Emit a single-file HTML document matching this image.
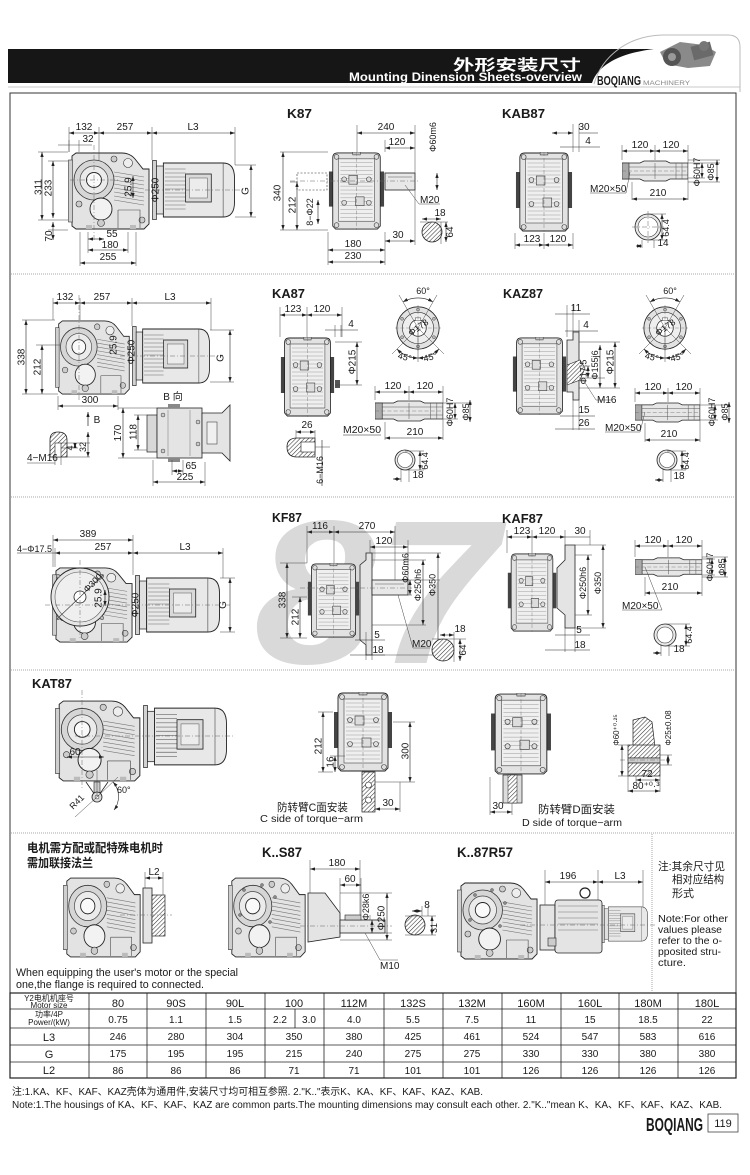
<!DOCTYPE html>
<html><head><meta charset="utf-8"><style>
html,body{margin:0;padding:0;background:#fff}
svg{display:block;font-size:10px}
text{font-family:"Liberation Sans","Noto Sans CJK SC",sans-serif;fill:#1a1a1a}
.t{text-anchor:middle}
.b{font-weight:bold}
.d{stroke:#222;stroke-width:0.6;fill:none;marker-start:url(#ar);marker-end:url(#ar)}
.e{stroke:#444;stroke-width:0.5;fill:none}
.c{stroke:#666;stroke-width:0.5;fill:none;stroke-dasharray:5 2 1 2}
.o{stroke:#222;stroke-width:0.8;fill:#e4e4e4}
.g{fill:#e8e8e8;stroke:#222;stroke-width:0.8}
</style></head><body>
<svg width="750" height="1175" viewBox="0 0 750 1175" xmlns="http://www.w3.org/2000/svg">
<defs>
<marker id="ar" viewBox="0 0 6 4" refX="6" refY="2" markerWidth="5" markerHeight="3.4" orient="auto-start-reverse" markerUnits="userSpaceOnUse"><path d="M0,0L6,2L0,4Z" fill="#222"/></marker>
<pattern id="hp" width="3" height="3" patternUnits="userSpaceOnUse" patternTransform="rotate(45)"><rect width="3" height="3" fill="#fff"/><line x1="0" y1="0" x2="0" y2="3" stroke="#333" stroke-width="1.1"/></pattern>
<symbol id="ks" viewBox="0 0 84 78" preserveAspectRatio="none">
<path d="M4,4 L8,1 L54,1 Q62,1 67,7 L75,17 L81,17 L81,72 L76,77 L8,77 L4,74 Z" fill="#e3e3e3" stroke="#222" stroke-width="0.9"/>
<rect x="0.5" y="8" width="4" height="62" fill="#cfcfcf" stroke="#333" stroke-width="0.6"/>
<path d="M46,20 L76,25 M46,24 L76,29 M46,28 L76,33 M46,32 L76,37 M46,36 L76,41 M46,40 L76,45 M46,44 L76,49 M46,48 L76,53" stroke="#777" stroke-width="0.6"/>
<circle cx="26" cy="28" r="20" fill="#d6d6d6" stroke="#333" stroke-width="0.8"/>
<circle cx="26" cy="28" r="14" fill="#ebebeb" stroke="#444" stroke-width="0.7"/>
<circle cx="26" cy="28" r="7.5" fill="#fafafa" stroke="#222" stroke-width="0.9"/>
<circle cx="33" cy="57" r="11" fill="#f2f2f2" stroke="#222" stroke-width="0.9"/>
<circle cx="46" cy="7" r="3" fill="#ccc" stroke="#333" stroke-width="0.6"/>
<circle cx="60" cy="11" r="4.5" fill="#eee" stroke="#333" stroke-width="0.6"/>
<circle cx="11" cy="52" r="3" fill="#ccc" stroke="#333" stroke-width="0.6"/>
<circle cx="33" cy="71" r="3.5" fill="#ccc" stroke="#333" stroke-width="0.6"/>
<circle cx="74" cy="68" r="3" fill="#ccc" stroke="#333" stroke-width="0.6"/>
<path d="M50,58 L72,58 L72,76 M50,58 L50,76" stroke="#444" stroke-width="0.6" fill="none"/>
<rect x="18" y="73" width="6" height="4" fill="#bbb"/><rect x="62" y="73" width="6" height="4" fill="#bbb"/>
</symbol>
<symbol id="mot" viewBox="0 0 84 60" preserveAspectRatio="none">
<rect x="0.5" y="0.5" width="4" height="59" fill="#d2d2d2" stroke="#222" stroke-width="0.7"/>
<rect x="4.5" y="6" width="7" height="48" fill="#e0e0e0" stroke="#222" stroke-width="0.7"/>
<path d="M11.5,3 L72,3 Q83.5,3 83.5,18 L83.5,42 Q83.5,57 72,57 L11.5,57 Z" fill="#e8e8e8" stroke="#222" stroke-width="0.9"/>
<path d="M13,9H34M13,13H34M13,17H34M13,21H34M13,25H34M13,29H34M13,33H34M13,37H34M13,41H34M13,45H34M13,49H34" stroke="#666" stroke-width="0.6"/>
<rect x="34" y="14" width="26" height="28" fill="#dadada" stroke="#222" stroke-width="0.8"/>
<rect x="38" y="18" width="18" height="20" fill="#ececec" stroke="#555" stroke-width="0.5"/>
<line x1="72" y1="3" x2="72" y2="57" stroke="#444" stroke-width="0.6"/>
</symbol>
<symbol id="kf" viewBox="0 0 60 80" preserveAspectRatio="none">
<rect x="1" y="20" width="5" height="36" fill="#444"/>
<rect x="54" y="20" width="5" height="36" fill="#444"/>
<path d="M5,6 Q5,1 10,1 L50,1 Q55,1 55,6 L55,76 L52,79 L8,79 L5,76 Z" fill="#e2e2e2" stroke="#222" stroke-width="0.9"/>
<rect x="11" y="7" width="38" height="64" fill="#efefef" stroke="#444" stroke-width="0.6"/>
<path d="M13,11H47M13,15H47M13,19H47M13,23H47M13,27H47M13,31H47M13,35H47M13,39H47M13,43H47M13,47H47M13,51H47M13,55H47M13,59H47M13,63H47M13,67H47" stroke="#999" stroke-width="0.5"/>
<g fill="#ddd" stroke="#333" stroke-width="0.6"><circle cx="9" cy="5" r="2.5"/><circle cx="51" cy="5" r="2.5"/><circle cx="9" cy="75" r="2.5"/><circle cx="51" cy="75" r="2.5"/><circle cx="17" cy="28" r="2.5"/><circle cx="43" cy="28" r="2.5"/><circle cx="17" cy="52" r="2.5"/><circle cx="43" cy="52" r="2.5"/>
<rect x="22" y="24" width="9" height="9"/><rect x="29" y="46" width="9" height="9"/></g>
<rect x="26" y="0" width="8" height="3" fill="#bbb" stroke="#333" stroke-width="0.5"/>
<line x1="30" y1="0" x2="30" y2="80" stroke="#666" stroke-width="0.4" stroke-dasharray="4 2"/>
</symbol>
<symbol id="hs" viewBox="0 0 66 22" preserveAspectRatio="none">
<path d="M0,3 L18,3 L22,1 L44,1 L48,3 L66,3 L66,19 L48,19 L44,21 L22,21 L18,19 L0,19 Z" fill="#e6e6e6" stroke="#222" stroke-width="0.8"/>
<rect x="0" y="3" width="7" height="16" fill="#aaa" stroke="#222" stroke-width="0.6"/>
<line x1="7" y1="7" x2="66" y2="7" stroke="#555" stroke-width="0.5"/>
<line x1="7" y1="15" x2="66" y2="15" stroke="#555" stroke-width="0.5"/>
<line x1="0" y1="11" x2="66" y2="11" stroke="#666" stroke-width="0.4" stroke-dasharray="4 2"/>
<path d="M33,3V19M54,3V19M60,3V19" stroke="#555" stroke-width="0.5"/>
</symbol>
<symbol id="fc" viewBox="0 0 50 50">
<circle cx="25" cy="25" r="23" fill="#e2e2e2" stroke="#222" stroke-width="0.9"/>
<circle cx="25" cy="25" r="17" fill="#eee" stroke="#333" stroke-width="0.7"/>
<circle cx="25" cy="25" r="9" fill="#fff" stroke="#222" stroke-width="0.8"/>
<rect x="22" y="14" width="6" height="3" fill="#fff" stroke="#333" stroke-width="0.5"/>
<g fill="#bbb" stroke="#333" stroke-width="0.5"><circle cx="42.3" cy="15" r="1.6"/><circle cx="25" cy="5" r="1.6"/><circle cx="7.7" cy="15" r="1.6"/><circle cx="7.7" cy="35" r="1.6"/><circle cx="25" cy="45" r="1.6"/><circle cx="42.3" cy="35" r="1.6"/></g>
<path d="M0,25H50M25,0V50" stroke="#666" stroke-width="0.4" stroke-dasharray="4 2"/>
</symbol>
</defs>

<rect x="0" y="0" width="750" height="1175" fill="#fff"/>

<!-- HEADER -->
<path d="M8,49 L654,49 C630,52 600,60 592,83 L8,83 Z" fill="#161616"/>
<line x1="8" y1="87" x2="740" y2="87" stroke="#c8c8c8" stroke-width="1"/>
<path d="M594,84 C602,56 628,36 662,35 L728,35 Q740,35 740,47 L740,92" stroke="#bbb" stroke-width="1" fill="none"/>
<g>
<path d="M660,52 L680,42 L704,45 L716,52 L710,66 L688,68 L666,64 Z" fill="#8a8a8a"/>
<circle cx="672" cy="57" r="9" fill="#555"/><circle cx="672" cy="57" r="4" fill="#999"/>
<rect x="692" y="44" width="20" height="14" fill="#6a6a6a" transform="rotate(-15 702 51)"/>
<circle cx="704" cy="46" r="5" fill="#777"/>
</g>
<text x="581" y="70" text-anchor="end" class="b" font-size="15" style="fill:#fff" textLength="128" lengthAdjust="spacingAndGlyphs">外形安装尺寸</text>
<text x="349" y="81" class="b" font-size="12" style="fill:#fff" textLength="233" lengthAdjust="spacingAndGlyphs">Mounting Dinension Sheets-overview</text>
<text x="597" y="85" class="b" font-size="13" textLength="44" lengthAdjust="spacingAndGlyphs">BOQIANG</text>
<text x="643" y="85" font-size="6" style="fill:#888" textLength="47" lengthAdjust="spacingAndGlyphs">MACHINERY</text>

<!-- FRAME -->
<rect x="10" y="93" width="726" height="985" fill="none" stroke="#333" stroke-width="1"/>
<g stroke="#aaa" stroke-width="1" stroke-dasharray="1 1">
<line x1="11" y1="274" x2="735" y2="274"/><line x1="11" y1="497" x2="735" y2="497"/>
<line x1="11" y1="670" x2="735" y2="670"/><line x1="11" y1="833" x2="735" y2="833"/>
<line x1="652" y1="834" x2="652" y2="992"/></g>

<!-- WATERMARK 87 -->
<text x="254" y="663" class="b" font-size="205" font-style="italic" style="fill:#d9d9d9" textLength="244" lengthAdjust="spacingAndGlyphs">87</text>

<!-- ===== SECTION 1 ===== -->
<text x="287" y="118" class="b" font-size="13" textLength="25" lengthAdjust="spacingAndGlyphs">K87</text>
<text x="502" y="118" class="b" font-size="13" textLength="43" lengthAdjust="spacingAndGlyphs">KAB87</text>

<use href="#ks" x="68" y="152" width="84" height="78"/>
<use href="#mot" x="152" y="160" width="83" height="60"/>
<path class="c" d="M145,190H245M94,145V240M70,180H120"/>
<path class="e" d="M69,127V152M99,127V160M152,127V160M235,127V165M38,152H68M48,161H68M38,220H68M48,230H68M80,232V266M88,232V253M128,232V253M136,232V266M235,165H256M235,217H256"/>
<line class="d" x1="69" y1="133" x2="99" y2="133"/><line class="d" x1="99" y1="133" x2="152" y2="133"/><line class="d" x1="152" y1="133" x2="235" y2="133"/>
<text class="t" x="84" y="130">132</text><text class="t" x="125" y="130">257</text><text class="t" x="193" y="130">L3</text>
<path class="e" d="M58,145H92M69,140V152M79,140V152"/><text class="t" x="88" y="142">32</text>
<line class="d" x1="42" y1="152" x2="42" y2="220"/><line class="d" x1="53" y1="161" x2="53" y2="218"/><line class="d" x1="53" y1="222" x2="53" y2="240"/>
<text class="t" x="41.5" y="187" transform="rotate(-90 41.5 187)">311</text>
<text class="t" x="51.5" y="188" transform="rotate(-90 51.5 188)">233</text>
<text class="t" x="52" y="236" transform="rotate(-90 52 236)">70</text>
<line class="d" x1="88" y1="239" x2="104" y2="239"/><text class="t" x="112" y="237">55</text>
<line class="d" x1="88" y1="250" x2="128" y2="250"/><text class="t" x="110" y="248">180</text>
<line class="d" x1="80" y1="263" x2="136" y2="263"/><text class="t" x="108" y="260">255</text>
<line class="d" x1="133" y1="176" x2="133" y2="198"/>
<text class="t" x="131.5" y="187" transform="rotate(-90 131.5 187)">25.9</text>
<text class="t" x="158.5" y="190" transform="rotate(-90 158.5 190)">Φ250</text>
<line class="d" x1="251" y1="165" x2="251" y2="217"/>
<text class="t" x="248.5" y="191" transform="rotate(-90 248.5 191)">G</text>

<!-- K87 front -->
<rect x="297" y="173" width="30" height="17" fill="none" stroke="#333" stroke-width="0.6" stroke-dasharray="2 1.5"/>
<use href="#kf" x="328" y="152" width="57" height="78"/>
<rect x="385" y="173" width="30" height="17" class="g"/>
<line x1="388" y1="177" x2="412" y2="177" stroke="#555" stroke-width="0.5"/>
<path class="c" d="M290,181H420"/>
<path class="e" d="M357,125V152M415,125V195M280,152H328M290,182H297M280,230H328M328,232V265M385,232V265M415,195V245M385,140V152"/>
<line class="d" x1="357" y1="133" x2="415" y2="133"/><text class="t" x="386" y="130">240</text>
<line class="d" x1="385" y1="148" x2="415" y2="148"/><text class="t" x="397" y="145">120</text>
<line class="d" x1="437" y1="173" x2="437" y2="190"/>
<text class="t" x="436" y="137" font-size="9" transform="rotate(-90 436 137)">Φ60m6</text>
<path class="e" d="M405,185L419,204H440"/><text x="420" y="203">M20</text>
<circle cx="432" cy="232" r="10" fill="url(#hp)" stroke="#222" stroke-width="0.8"/>
<path class="e" d="M420,222H448M441,222V244"/>
<line class="d" x1="422" y1="219" x2="441" y2="219"/><text class="t" x="440" y="216">18</text>
<line class="d" x1="446" y1="222" x2="446" y2="242"/><text class="t" x="453" y="232" transform="rotate(-90 453 232)">64</text>
<line class="d" x1="385" y1="241" x2="415" y2="241"/><text class="t" x="398" y="238">30</text>
<line class="d" x1="328" y1="250" x2="385" y2="250"/><text class="t" x="353" y="247">180</text>
<line class="d" x1="328" y1="262" x2="385" y2="262"/><text class="t" x="353" y="259">230</text>
<line class="d" x1="283" y1="152" x2="283" y2="230"/><text class="t" x="280.5" y="193" transform="rotate(-90 280.5 193)">340</text>
<line class="d" x1="297" y1="182" x2="297" y2="230"/><text class="t" x="295.5" y="205" transform="rotate(-90 295.5 205)">212</text>
<line class="d" x1="318" y1="200" x2="318" y2="224"/><text class="t" x="313" y="212" font-size="9" transform="rotate(-90 313 212)">8−Φ22</text>

<!-- KAB87 -->
<use href="#kf" x="515" y="152" width="58" height="80"/>
<path class="e" d="M573,124V152M579,124V152M515,233V249M573,233V249M544,233V249"/>
<line class="d" x1="552" y1="133" x2="573" y2="133"/><line x1="579" y1="133" x2="598" y2="133" stroke="#222" stroke-width="0.6"/>
<text class="t" x="584" y="130">30</text>
<line x1="560" y1="147" x2="600" y2="147" stroke="#222" stroke-width="0.6"/><text class="t" x="588" y="144">4</text>
<line class="d" x1="515" y1="245" x2="544" y2="245"/><line class="d" x1="544" y1="245" x2="573" y2="245"/>
<text class="t" x="532" y="242">123</text><text class="t" x="558" y="242">120</text>
<use href="#hs" x="622" y="160" width="66" height="22"/>
<path class="e" d="M622,145V160M655,145V160M688,145V200M632,182V200M688,163H720M688,178H705M688,160H720M688,182H720"/>
<line class="d" x1="622" y1="151" x2="655" y2="151"/><line class="d" x1="655" y1="151" x2="688" y2="151"/>
<text class="t" x="640" y="148">120</text><text class="t" x="671" y="148">120</text>
<path class="e" d="M630,172L626,193H590"/><text x="590" y="192">M20×50</text>
<line class="d" x1="632" y1="199" x2="688" y2="199"/><text class="t" x="658" y="196">210</text>
<line class="d" x1="702" y1="163" x2="702" y2="178"/><text class="t" x="700" y="172" font-size="9" transform="rotate(-90 700 172)">Φ60H7</text>
<line class="d" x1="717" y1="160" x2="717" y2="182"/><text class="t" x="714" y="172" font-size="9" transform="rotate(-90 714 172)">Φ85</text>
<circle cx="648" cy="227" r="13" fill="#e8e8e8" stroke="#222" stroke-width="0.8"/>
<circle cx="648" cy="227" r="10" fill="#fff" stroke="#333" stroke-width="0.6"/>
<path class="c" d="M632,227H664M648,211V243"/>
<path class="e" d="M648,214H666M648,240H666M642,240V248M654,240V248"/>
<line class="d" x1="662" y1="214" x2="662" y2="240"/><text class="t" x="669" y="228" font-size="9" transform="rotate(-90 669 228)">64.4</text>
<line class="d" x1="636" y1="246" x2="642" y2="246"/><text class="t" x="663" y="246">14</text>

<!-- ===== SECTION 2 ===== -->
<text x="272" y="298" class="b" font-size="13" textLength="33" lengthAdjust="spacingAndGlyphs">KA87</text>
<text x="503" y="298" class="b" font-size="13" textLength="40" lengthAdjust="spacingAndGlyphs">KAZ87</text>

<use href="#ks" x="55" y="320" width="77" height="75"/>
<use href="#mot" x="132" y="326" width="78" height="60"/>
<path class="c" d="M120,356H222M79,295V400"/>
<path class="e" d="M53,298V320M80,298V320M132,298V326M211,298V330M22,320H55M36,345H60M22,394H58M58,396V410M118,396V410M210,330H234M210,382H234"/>
<line class="d" x1="53" y1="303" x2="80" y2="303"/><line class="d" x1="80" y1="303" x2="132" y2="303"/><line class="d" x1="132" y1="303" x2="211" y2="303"/>
<text class="t" x="65" y="300">132</text><text class="t" x="102" y="300">257</text><text class="t" x="170" y="300">L3</text>
<line class="d" x1="26" y1="320" x2="26" y2="394"/><text class="t" x="24.5" y="357" transform="rotate(-90 24.5 357)">338</text>
<line class="d" x1="42" y1="345" x2="42" y2="394"/><text class="t" x="40.5" y="367" transform="rotate(-90 40.5 367)">212</text>
<text class="t" x="116.5" y="345" transform="rotate(-90 116.5 345)">25.9</text>
<text class="t" x="134.5" y="352" transform="rotate(-90 134.5 352)">Φ250</text>
<line class="d" x1="230" y1="330" x2="230" y2="382"/><text class="t" x="223.5" y="358" transform="rotate(-90 223.5 358)">G</text>
<line class="d" x1="58" y1="406" x2="118" y2="406"/><text class="t" x="90" y="403">300</text>
<text class="t" x="173" y="400">B 向</text>
<line x1="88" y1="426" x2="88" y2="412" stroke="#222" stroke-width="0.7" marker-end="url(#ar)"/><text class="t" x="97" y="423">B</text>
<!-- 4-M16 detail -->
<path d="M50,457 L50,440 Q50,432 58,432 Q67,432 67,440 L67,457 Z" fill="url(#hp)" stroke="#222" stroke-width="0.8"/>
<rect x="55" y="443" width="6" height="14" fill="#fff" stroke="#222" stroke-width="0.6"/>
<path class="e" d="M61,443H90M61,448H78M61,457H90M55,457V465M61,457V465M27,463H55"/>
<line class="d" x1="75" y1="443" x2="75" y2="448"/><text class="t" x="73" y="448" font-size="9" transform="rotate(-90 73 448)">4</text>
<line class="d" x1="88" y1="432" x2="88" y2="457"/><text class="t" x="86" y="447" font-size="9" transform="rotate(-90 86 447)">32</text>
<text x="27" y="461">4−M16</text>
<!-- B view -->
<rect x="147" y="415" width="10" height="37" fill="#d8d8d8" stroke="#222" stroke-width="0.7"/>
<rect x="157" y="408" width="45" height="50" class="o"/>
<rect x="168" y="404" width="12" height="4" fill="#888"/><rect x="168" y="458" width="12" height="4" fill="#888"/>
<path d="M202,413 L222,413 L230,405 L230,461 L222,453 L202,453 Z" class="o"/>
<rect x="207" y="422" width="10" height="22" fill="#f0f0f0" stroke="#444" stroke-width="0.6"/>
<g fill="#ccc" stroke="#333" stroke-width="0.5"><circle cx="163" cy="415" r="2"/><circle cx="163" cy="451" r="2"/><circle cx="198" cy="422" r="2"/><circle cx="198" cy="444" r="2"/></g>
<path d="M168,410V456M190,410V456" stroke="#777" stroke-width="0.5"/>
<path class="e" d="M118,408H157M134,415H147M134,450H147M118,458H157M153,460V486M172,460V475M183,460V475M205,462V486"/>
<line class="d" x1="123" y1="408" x2="123" y2="458"/><text class="t" x="121" y="433" transform="rotate(-90 121 433)">170</text>
<line class="d" x1="138" y1="415" x2="138" y2="450"/><text class="t" x="136.5" y="432" transform="rotate(-90 136.5 432)">118</text>
<line class="d" x1="172" y1="471" x2="183" y2="471"/><text class="t" x="191" y="469">65</text>
<line class="d" x1="153" y1="482" x2="205" y2="482"/><text class="t" x="185" y="480">225</text>
<!-- KA87 front -->
<use href="#kf" x="280" y="337" width="55" height="80"/>
<rect x="335" y="380" width="5" height="8" fill="#555"/>
<path class="e" d="M280,307V337M307,307V337M342,307V337M335,325V337M341,325V337M335,342H362M335,385H362"/>
<line class="d" x1="280" y1="315" x2="307" y2="315"/><line class="d" x1="307" y1="315" x2="342" y2="315"/>
<text class="t" x="293" y="312">123</text><text class="t" x="322" y="312">120</text>
<line x1="325" y1="330" x2="358" y2="330" stroke="#222" stroke-width="0.6"/><text class="t" x="351" y="327">4</text>
<line class="d" x1="357" y1="342" x2="357" y2="385"/><text class="t" x="355.5" y="362" transform="rotate(-90 355.5 362)">Φ215</text>
<path d="M315,438 L297,438 Q287,438 287,447 Q287,457 297,457 L315,457 Z" fill="url(#hp)" stroke="#222" stroke-width="0.8"/>
<rect x="301" y="442" width="14" height="10" fill="#fff" stroke="#222" stroke-width="0.6"/>
<path class="e" d="M296,430V438M315,430V438M315,447H330"/>
<line class="d" x1="296" y1="432" x2="315" y2="432"/><text class="t" x="307" y="428">26</text>
<line x1="322" y1="440" x2="322" y2="486" stroke="#222" stroke-width="0.6"/>
<text class="t" x="323" y="470" font-size="9" transform="rotate(-90 323 470)">6−M16</text>
<text x="343" y="433" textLength="38" lengthAdjust="spacingAndGlyphs">M20×50</text>
<line x1="343" y1="435" x2="381" y2="435" stroke="#222" stroke-width="0.5"/>
<!-- flange circles -->
<use href="#fc" x="395" y="305" width="46" height="46"/>
<use href="#fc" x="642" y="305" width="46" height="46"/>
<g>
<path class="e" d="M418,328L399,295M418,328L437,295M418,328L392,354M418,328L444,354M418,328V362"/>
<path class="d" d="M403,302A30,30 0 0 1 433,302"/>
<path class="d" d="M397,349A30,30 0 0 0 418,358"/><path class="d" d="M418,358A30,30 0 0 0 439,349"/>
<text class="t" x="423" y="294" font-size="9">60°</text>
<text class="t" x="404" y="360" font-size="9" transform="rotate(15 404 360)">45°</text><text class="t" x="431" y="360" font-size="9" transform="rotate(-15 431 360)">45°</text>
<text class="t" x="420" y="330" font-size="9" transform="rotate(-35 420 330)">Φ178</text>
</g>
<g>
<path class="e" d="M665,328L646,295M665,328L684,295M665,328L639,354M665,328L691,354M665,328V362"/>
<path class="d" d="M650,302A30,30 0 0 1 680,302"/>
<path class="d" d="M644,349A30,30 0 0 0 665,358"/><path class="d" d="M665,358A30,30 0 0 0 686,349"/>
<text class="t" x="670" y="294" font-size="9">60°</text>
<text class="t" x="651" y="360" font-size="9" transform="rotate(15 651 360)">45°</text><text class="t" x="678" y="360" font-size="9" transform="rotate(-15 678 360)">45°</text>
<text class="t" x="667" y="330" font-size="9" transform="rotate(-35 667 330)">Φ178</text>
</g>
<!-- hollow shafts sec2 -->
<use href="#hs" x="375" y="400" width="68" height="22"/>
<path class="e" d="M375,386V400M409,386V400M443,386V440M385,422V440M443,403H472M443,419H458"/>
<line class="d" x1="375" y1="392" x2="409" y2="392"/><line class="d" x1="409" y1="392" x2="443" y2="392"/>
<text class="t" x="393" y="389">120</text><text class="t" x="425" y="389">120</text>
<line class="d" x1="385" y1="438" x2="443" y2="438"/><text class="t" x="415" y="435">210</text>
<line class="d" x1="455" y1="403" x2="455" y2="419"/><text class="t" x="453" y="412" font-size="9" transform="rotate(-90 453 412)">Φ60H7</text>
<line class="d" x1="470" y1="400" x2="470" y2="422"/><text class="t" x="469" y="412" font-size="9" transform="rotate(-90 469 412)">Φ85</text>
<circle cx="405" cy="460" r="10" fill="#e8e8e8" stroke="#222" stroke-width="0.8"/><circle cx="405" cy="460" r="7.5" fill="#fff" stroke="#333" stroke-width="0.6"/>
<path class="e" d="M405,451H424M405,470H424M401,468V482M409,468V482"/>
<line class="d" x1="420" y1="451" x2="420" y2="470"/><text class="t" x="428" y="461" font-size="9" transform="rotate(-90 428 461)">64.4</text>
<line class="d" x1="393" y1="479" x2="401" y2="479"/><text class="t" x="418" y="478">18</text>

<use href="#hs" x="635" y="402" width="65" height="21"/>
<path class="e" d="M635,388V402M668,388V402M700,388V442M645,423V442M700,405H730M700,420H718"/>
<line class="d" x1="635" y1="393" x2="668" y2="393"/><line class="d" x1="668" y1="393" x2="700" y2="393"/>
<text class="t" x="653" y="390">120</text><text class="t" x="684" y="390">120</text>
<path class="e" d="M645,412L640,432H605"/><text x="605" y="431">M20×50</text>
<line class="d" x1="645" y1="440" x2="700" y2="440"/><text class="t" x="669" y="437">210</text>
<line class="d" x1="715" y1="405" x2="715" y2="420"/><text class="t" x="715" y="412" font-size="9" transform="rotate(-90 715 412)">Φ60H7</text>
<line class="d" x1="729" y1="402" x2="729" y2="423"/><text class="t" x="728" y="412" font-size="9" transform="rotate(-90 728 412)">Φ85</text>
<circle cx="667" cy="460" r="10" fill="#e8e8e8" stroke="#222" stroke-width="0.8"/><circle cx="667" cy="460" r="7.5" fill="#fff" stroke="#333" stroke-width="0.6"/>
<path class="e" d="M667,451H686M667,470H686M663,468V482M671,468V482"/>
<line class="d" x1="682" y1="451" x2="682" y2="470"/><text class="t" x="689" y="461" font-size="9" transform="rotate(-90 689 461)">64.4</text>
<line class="d" x1="655" y1="480" x2="663" y2="480"/><text class="t" x="679" y="479">18</text>
<!-- KAZ87 -->
<use href="#kf" x="512" y="337" width="55" height="78"/>
<path d="M567,340 L573,340 L573,332 L579,332 L579,400 L573,400 L573,392 L567,392 Z" class="o"/>
<path d="M567,365 L580,360 L585,368 L580,380 L567,385 Z" fill="url(#hp)" stroke="#222" stroke-width="0.6"/>
<path class="e" d="M567,305V337M573,305V332M579,320V332M579,342H620M579,366H590M579,378H605M579,388H620M573,400V430M579,400V430"/>
<line x1="555" y1="314" x2="590" y2="314" stroke="#222" stroke-width="0.6"/><text class="t" x="576" y="311">11</text>
<line x1="565" y1="331" x2="598" y2="331" stroke="#222" stroke-width="0.6"/><text class="t" x="586" y="328">4</text>
<line class="d" x1="588" y1="366" x2="588" y2="378"/><text class="t" x="586.5" y="372" font-size="9" transform="rotate(-90 586.5 372)">Φ17.5</text>
<line class="d" x1="600" y1="345" x2="600" y2="388"/><text class="t" x="598" y="365" font-size="9" transform="rotate(-90 598 365)">Φ155j6</text>
<line class="d" x1="615" y1="342" x2="615" y2="388"/><text class="t" x="613.5" y="362" transform="rotate(-90 613.5 362)">Φ215</text>
<path class="e" d="M582,378L596,400H612"/><text x="597" y="403">M16</text>
<line x1="560" y1="416" x2="595" y2="416" stroke="#222" stroke-width="0.6"/><text class="t" x="584" y="413">15</text>
<line x1="555" y1="429" x2="595" y2="429" stroke="#222" stroke-width="0.6"/><text class="t" x="584" y="426">26</text>

<!-- ===== SECTION 3 ===== -->
<text x="272" y="522" class="b" font-size="13" textLength="30" lengthAdjust="spacingAndGlyphs">KF87</text>
<text x="502" y="523" class="b" font-size="13" textLength="41" lengthAdjust="spacingAndGlyphs">KAF87</text>

<use href="#ks" x="52" y="567" width="83" height="76"/>
<circle cx="80" cy="597" r="29" fill="#e6e6e6" stroke="#222" stroke-width="0.9"/>
<circle cx="80" cy="597" r="25" fill="#efefef" stroke="#555" stroke-width="0.6"/>
<circle cx="80" cy="597" r="6" fill="#fff" stroke="#222" stroke-width="0.8"/>
<g fill="#bbb" stroke="#333" stroke-width="0.5"><circle cx="58" cy="576" r="1.8"/><circle cx="102" cy="576" r="1.8"/><circle cx="58" cy="618" r="1.8"/><circle cx="102" cy="618" r="1.8"/></g>
<use href="#mot" x="135" y="575" width="85" height="60"/>
<path class="c" d="M45,605H230M80,560V640"/>
<line x1="57" y1="619" x2="103" y2="575" stroke="#333" stroke-width="0.6"/>
<path class="e" d="M53,535V567M133,535V575M55,548V567M223,548V578M220,578H235M220,632H235"/>
<line class="d" x1="53" y1="540" x2="133" y2="540"/><text class="t" x="88" y="537">389</text>
<text x="17" y="552" font-size="9">4−Φ17.5</text><line x1="17" y1="553" x2="55" y2="553" stroke="#222" stroke-width="0.5"/>
<line class="d" x1="55" y1="553" x2="133" y2="553"/><line class="d" x1="133" y1="553" x2="223" y2="553"/>
<text class="t" x="103" y="550">257</text><text class="t" x="185" y="550">L3</text>
<text class="t" x="95" y="585" font-size="9" transform="rotate(-45 95 585)">Φ300</text>
<line class="d" x1="105" y1="590" x2="105" y2="606"/>
<text class="t" x="101.5" y="598" transform="rotate(-90 101.5 598)">25.9</text>
<text class="t" x="138.5" y="605" transform="rotate(-90 138.5 605)">Φ250</text>
<line class="d" x1="230" y1="578" x2="230" y2="632"/><text class="t" x="226" y="605" transform="rotate(-90 226 605)">G</text>
<!-- KF87 front -->
<use href="#kf" x="307" y="563" width="53" height="75"/>
<path d="M360,565 L366,560 L366,553 L372,553 L372,655 L366,655 L366,645 L360,640 Z" class="o"/>
<rect x="372" y="580" width="36" height="15" class="g"/>
<line x1="375" y1="584" x2="404" y2="584" stroke="#555" stroke-width="0.5"/>
<path class="c" d="M300,588H412"/>
<path class="e" d="M307,526V563M334,526V563M395,526V580M370,540V553M408,540V580M280,563H307M292,597H307M280,638H307M408,580H440M408,595H412M372,560H426M372,625H426M372,553H441M372,655H441M366,632V660M372,632V660"/>
<line class="d" x1="307" y1="532" x2="334" y2="532"/><line class="d" x1="334" y1="532" x2="395" y2="532"/>
<text class="t" x="320" y="529">116</text><text class="t" x="367" y="529">270</text>
<line class="d" x1="370" y1="547" x2="408" y2="547"/><text class="t" x="384" y="544">120</text>
<line class="d" x1="410" y1="580" x2="410" y2="595"/><text class="t" x="408.5" y="568" font-size="9" transform="rotate(-90 408.5 568)">Φ60m6</text>
<line class="d" x1="423" y1="560" x2="423" y2="625"/><text class="t" x="421" y="585" font-size="9" transform="rotate(-90 421 585)">Φ250h6</text>
<line class="d" x1="438" y1="553" x2="438" y2="655"/><text class="t" x="435.5" y="585" font-size="9" transform="rotate(-90 435.5 585)">Φ350</text>
<line class="d" x1="287" y1="563" x2="287" y2="638"/><text class="t" x="285.5" y="600" transform="rotate(-90 285.5 600)">338</text>
<line class="d" x1="300" y1="597" x2="300" y2="638"/><text class="t" x="298.5" y="617" transform="rotate(-90 298.5 617)">212</text>
<line x1="355" y1="640" x2="385" y2="640" stroke="#222" stroke-width="0.6"/><text class="t" x="377" y="638">5</text>
<line x1="350" y1="655" x2="385" y2="655" stroke="#222" stroke-width="0.6"/><text class="t" x="378" y="653">18</text>
<path class="e" d="M398,595L413,648H430"/><text x="412" y="647">M20</text>
<circle cx="443" cy="650" r="11" fill="url(#hp)" stroke="#222" stroke-width="0.8"/>
<path class="e" d="M432,639H466M454,632V662"/>
<line class="d" x1="440" y1="635" x2="454" y2="635"/><text class="t" x="460" y="632">18</text>
<line class="d" x1="460" y1="639" x2="460" y2="661"/><text class="t" x="466" y="650" transform="rotate(-90 466 650)">64</text>
<!-- KAF87 -->
<use href="#kf" x="507" y="553" width="50" height="79"/>
<path d="M557,568 L565,560 L565,545 L575,545 L575,628 L565,628 L565,615 L557,608 Z" class="o"/>
<path class="e" d="M507,530V553M532,530V553M565,530V545M590,530V545M575,555H592M575,615H592M575,545H606M575,628H606M565,628V652M575,628V652"/>
<line class="d" x1="507" y1="537" x2="532" y2="537"/><line class="d" x1="532" y1="537" x2="565" y2="537"/><line x1="565" y1="537" x2="590" y2="537" stroke="#222" stroke-width="0.6"/>
<text class="t" x="522" y="534">123</text><text class="t" x="547" y="534">120</text><text class="t" x="580" y="534">30</text>
<line class="d" x1="588" y1="555" x2="588" y2="615"/><text class="t" x="586" y="583" font-size="9" transform="rotate(-90 586 583)">Φ250h6</text>
<line class="d" x1="603" y1="545" x2="603" y2="628"/><text class="t" x="601" y="583" font-size="9" transform="rotate(-90 601 583)">Φ350</text>
<line x1="555" y1="635" x2="590" y2="635" stroke="#222" stroke-width="0.6"/><text class="t" x="579" y="633">5</text>
<line x1="545" y1="650" x2="590" y2="650" stroke="#222" stroke-width="0.6"/><text class="t" x="580" y="648">18</text>
<use href="#hs" x="635" y="557" width="67" height="20"/>
<path class="e" d="M635,540V557M668,540V557M702,540V596M645,577V596M702,559H715M702,575H715M702,557H728M702,577H728"/>
<line class="d" x1="635" y1="546" x2="668" y2="546"/><line class="d" x1="668" y1="546" x2="702" y2="546"/>
<text class="t" x="653" y="543">120</text><text class="t" x="684" y="543">120</text>
<line class="d" x1="645" y1="593" x2="702" y2="593"/><text class="t" x="670" y="590">210</text>
<path class="e" d="M645,567L662,610H622"/><text x="622" y="609">M20×50</text>
<line class="d" x1="712" y1="559" x2="712" y2="575"/><text class="t" x="713" y="567" font-size="9" transform="rotate(-90 713 567)">Φ60H7</text>
<line class="d" x1="725" y1="557" x2="725" y2="577"/><text class="t" x="725" y="567" font-size="9" transform="rotate(-90 725 567)">Φ85</text>
<circle cx="665" cy="635" r="11" fill="#e8e8e8" stroke="#222" stroke-width="0.8"/><circle cx="665" cy="635" r="8" fill="#fff" stroke="#333" stroke-width="0.6"/>
<path class="e" d="M665,624H690M665,646H690M661,644V656M669,644V656"/>
<line class="d" x1="686" y1="624" x2="686" y2="646"/><text class="t" x="692" y="635" font-size="9" transform="rotate(-90 692 635)">64.4</text>
<line class="d" x1="653" y1="653" x2="661" y2="653"/><text class="t" x="679" y="652">18</text>

<!-- ===== SECTION 4 ===== -->
<text x="32" y="688" class="b" font-size="13" textLength="40" lengthAdjust="spacingAndGlyphs">KAT87</text>
<use href="#ks" x="55" y="700" width="88" height="82"/>
<use href="#mot" x="143" y="705" width="84" height="63"/>
<path class="c" d="M75,736H235M82,690V790"/>
<path d="M86,782 L95,795 M108,782 L99,795" stroke="#222" stroke-width="0.8"/>
<rect x="94" y="782" width="6" height="12" fill="#ccc" stroke="#222" stroke-width="0.6"/>
<circle cx="97" cy="797" r="5" fill="#ddd" stroke="#222" stroke-width="0.8"/><circle cx="97" cy="797" r="2" fill="#fff" stroke="#222" stroke-width="0.5"/>
<line class="d" x1="67" y1="757" x2="104" y2="757"/><text class="t" x="75" y="755">60</text>
<path class="e" d="M97,797L75,817M97,797L97,770M97,797L118,777"/>
<path class="d" d="M113,782A22,22 0 0 1 114,810"/>
<text x="117" y="793" font-size="9">60°</text>
<text class="t" x="79" y="804" font-size="9" transform="rotate(-45 79 804)">R41</text>
<!-- C view -->
<use href="#kf" x="333" y="692" width="60" height="80"/>
<rect x="362" y="772" width="13" height="40" fill="url(#hp)" stroke="#222" stroke-width="0.7"/>
<circle cx="368.5" cy="785" r="3" fill="#fff" stroke="#222" stroke-width="0.6"/><circle cx="368.5" cy="800" r="3" fill="#fff" stroke="#222" stroke-width="0.6"/>
<path class="e" d="M318,712H333M318,772H333M330,756H345M393,722H415M375,782H415M362,800V812M400,782V812"/>
<line class="d" x1="323" y1="712" x2="323" y2="772"/><text class="t" x="321.5" y="746" transform="rotate(-90 321.5 746)">212</text>
<line class="d" x1="335" y1="756" x2="335" y2="772"/><text class="t" x="333.5" y="762" transform="rotate(-90 333.5 762)">16</text>
<line class="d" x1="410" y1="722" x2="410" y2="782"/><text class="t" x="408.5" y="751" transform="rotate(-90 408.5 751)">300</text>
<line class="d" x1="375" y1="809" x2="400" y2="809"/><text class="t" x="388" y="806">30</text>
<text x="277" y="811" font-size="11" textLength="71" lengthAdjust="spacingAndGlyphs">防转臂C面安装</text>
<text x="260" y="822" font-size="10" textLength="103" lengthAdjust="spacingAndGlyphs">C side of torque−arm</text>
<!-- D view -->
<use href="#kf" x="490" y="693" width="62" height="82"/>
<rect x="503" y="775" width="19" height="28" fill="#ddd" stroke="#222" stroke-width="0.7"/>
<rect x="508" y="775" width="9" height="28" fill="url(#hp)" stroke="#222" stroke-width="0.5"/>
<path class="e" d="M490,777V815M512,803V815"/>
<line class="d" x1="490" y1="812" x2="512" y2="812"/><text class="t" x="498" y="809">30</text>
<text x="538" y="813" font-size="11" textLength="77" lengthAdjust="spacingAndGlyphs">防转臂D面安装</text>
<text x="522" y="826" font-size="10" textLength="100" lengthAdjust="spacingAndGlyphs">D side of torque−arm</text>
<!-- detail -->
<path d="M633,747 L633,720 L645,717 L652,722 L655,747 Z" fill="url(#hp)" stroke="#222" stroke-width="0.7"/>
<rect x="628" y="745" width="32" height="13" fill="url(#hp)" stroke="#222" stroke-width="0.7"/>
<rect x="628" y="758" width="32" height="5" fill="#ccc" stroke="#222" stroke-width="0.6"/>
<rect x="628" y="763" width="32" height="13" fill="url(#hp)" stroke="#222" stroke-width="0.7"/>
<path class="c" d="M620,760H668"/>
<path class="e" d="M618,745H628M618,776H628M660,755H672M660,765H672M628,776V792M660,776V792M636,776V782"/>
<line class="d" x1="622" y1="745" x2="622" y2="776"/><text class="t" x="619" y="730" font-size="8" transform="rotate(-90 619 730)">Φ60⁺⁰·²⁵</text>
<line class="d" x1="668" y1="755" x2="668" y2="765"/><text class="t" x="671" y="728" font-size="8" transform="rotate(-90 671 728)">Φ25±0.08</text>
<line class="d" x1="636" y1="780" x2="660" y2="780"/><text class="t" x="647" y="777">72</text>
<line class="d" x1="628" y1="791" x2="660" y2="791"/><text class="t" x="646" y="789">80⁺⁰·³</text>

<!-- ===== SECTION 5 ===== -->
<text x="27" y="852" class="b" font-size="12" textLength="136" lengthAdjust="spacingAndGlyphs">电机需方配或配特殊电机时</text>
<text x="27" y="867" class="b" font-size="12" textLength="66" lengthAdjust="spacingAndGlyphs">需加联接法兰</text>
<use href="#ks" x="63" y="877" width="80" height="81"/>
<rect x="143" y="888" width="9" height="55" class="o"/>
<rect x="152" y="895" width="13" height="41" fill="url(#hp)" stroke="#222" stroke-width="0.7"/>
<path class="c" d="M120,915H172"/>
<path class="e" d="M145,872V888M163,872V895"/>
<line class="d" x1="145" y1="878" x2="163" y2="878"/><text class="t" x="154" y="875">L2</text>
<text x="16" y="976" font-size="11" textLength="222" lengthAdjust="spacingAndGlyphs">When equipping the user's motor or the special</text>
<text x="16" y="988" font-size="11" textLength="188" lengthAdjust="spacingAndGlyphs">one,the flange is required to connected.</text>

<text x="262" y="857" class="b" font-size="14" textLength="40" lengthAdjust="spacingAndGlyphs">K..S87</text>
<use href="#ks" x="228" y="877" width="80" height="81"/>
<g fill="#888" stroke="#333" stroke-width="0.4"><circle cx="244" cy="890" r="1.5"/><circle cx="262" cy="885" r="1.5"/><circle cx="275" cy="897" r="1.5"/><circle cx="240" cy="915" r="1.5"/><circle cx="270" cy="922" r="1.5"/></g>
<path d="M308,893 L325,893 L340,913 L340,937 L308,942 Z" class="o"/>
<rect x="340" y="920" width="45" height="13" class="g"/>
<rect x="345" y="915" width="16" height="5" fill="#ccc" stroke="#222" stroke-width="0.6"/>
<path class="c" d="M300,926H392"/>
<path class="e" d="M310,860V893M360,860V915M340,878V915M361,878V915M370,915V920M370,933H392M340,893H392M340,940H392"/>
<line class="d" x1="310" y1="869" x2="360" y2="869"/><text class="t" x="337" y="866">180</text>
<line class="d" x1="340" y1="885" x2="361" y2="885"/><text class="t" x="350" y="882">60</text>
<line class="d" x1="372" y1="920" x2="372" y2="933"/><text class="t" x="369" y="907" font-size="9" transform="rotate(-90 369 907)">Φ28k6</text>
<line class="d" x1="387" y1="893" x2="387" y2="940"/><text class="t" x="384.5" y="918" transform="rotate(-90 384.5 918)">Φ250</text>
<path class="e" d="M365,933L380,960H398"/><text x="380" y="969">M10</text>
<circle cx="415" cy="925" r="10" fill="url(#hp)" stroke="#222" stroke-width="0.8"/>
<path class="e" d="M405,916H436M405,935H436M422,906V916M428,906V916"/>
<line class="d" x1="412" y1="911" x2="422" y2="911"/><text class="t" x="427" y="908">8</text>
<line class="d" x1="432" y1="916" x2="432" y2="935"/><text class="t" x="437" y="928" font-size="9" transform="rotate(-90 437 928)">31</text>

<text x="457" y="857" class="b" font-size="14" textLength="56" lengthAdjust="spacingAndGlyphs">K..87R57</text>
<use href="#ks" x="457" y="882" width="83" height="78"/>
<g fill="#888" stroke="#333" stroke-width="0.4"><circle cx="475" cy="895" r="1.5"/><circle cx="492" cy="890" r="1.5"/><circle cx="505" cy="903" r="1.5"/><circle cx="470" cy="920" r="1.5"/><circle cx="500" cy="926" r="1.5"/></g>
<rect x="540" y="905" width="15" height="45" class="o"/>
<rect x="555" y="900" width="47" height="53" rx="3" class="o"/>
<path d="M558,906H598M558,912H598M558,918H598M558,924H598M558,930H598" stroke="#777" stroke-width="0.5"/>
<circle cx="585" cy="893" r="5" fill="none" stroke="#222" stroke-width="1.2"/>
<rect x="548" y="938" width="8" height="8" fill="#ccc" stroke="#222" stroke-width="0.6"/>
<use href="#mot" x="602" y="905" width="46" height="38"/>
<path class="c" d="M520,925H655"/>
<path class="e" d="M545,870V905M598,870V900M643,870V907"/>
<line class="d" x1="545" y1="882" x2="598" y2="882"/><line class="d" x1="598" y1="882" x2="643" y2="882"/>
<text class="t" x="568" y="879">196</text><text class="t" x="620" y="879">L3</text>

<text x="658" y="870" font-size="11" textLength="67" lengthAdjust="spacingAndGlyphs">注:其余尺寸见</text>
<text x="672" y="883" font-size="11" textLength="52" lengthAdjust="spacingAndGlyphs">相对应结构</text>
<text x="672" y="897" font-size="11" textLength="22" lengthAdjust="spacingAndGlyphs">形式</text>
<text x="658" y="922" font-size="10.5" textLength="70" lengthAdjust="spacingAndGlyphs">Note:For other</text>
<text x="658" y="933" font-size="10.5" textLength="64" lengthAdjust="spacingAndGlyphs">values please</text>
<text x="658" y="944" font-size="10.5" textLength="64" lengthAdjust="spacingAndGlyphs">refer to the o-</text>
<text x="658" y="955" font-size="10.5" textLength="63" lengthAdjust="spacingAndGlyphs">pposited stru-</text>
<text x="658" y="966" font-size="10.5" textLength="28" lengthAdjust="spacingAndGlyphs">cture.</text>

<!-- ===== TABLE ===== -->
<g stroke="#222" fill="none">
<rect x="10" y="993" width="726" height="85" stroke-width="1.2"/>
<path d="M10,1009H736M10,1028H736M10,1045H736M10,1062H736" stroke-width="0.8"/>
<path d="M89,993V1078M147,993V1078M206,993V1078M265,993V1078M324,993V1078M384,993V1078M443,993V1078M502,993V1078M561,993V1078M619,993V1078M678,993V1078M295,1009V1028" stroke-width="0.8"/>
</g>
<text class="t" x="49" y="1001" font-size="8">Y2电机机座号</text><text class="t" x="49" y="1008" font-size="8">Motor size</text>
<text class="t" x="49" y="1017" font-size="8">功率/4P</text><text class="t" x="49" y="1025" font-size="8">Power/(kW)</text>
<text class="t" x="49" y="1041" font-size="11">L3</text><text class="t" x="49" y="1058" font-size="11">G</text><text class="t" x="49" y="1074" font-size="11">L2</text>
<g>
<text class="t" x="118" y="1007" font-size="11">80</text><text class="t" x="176" y="1007" font-size="11">90S</text><text class="t" x="235" y="1007" font-size="11">90L</text><text class="t" x="294" y="1007" font-size="11">100</text><text class="t" x="354" y="1007" font-size="11">112M</text><text class="t" x="413" y="1007" font-size="11">132S</text><text class="t" x="472" y="1007" font-size="11">132M</text><text class="t" x="531" y="1007" font-size="11">160M</text><text class="t" x="590" y="1007" font-size="11">160L</text><text class="t" x="648" y="1007" font-size="11">180M</text><text class="t" x="707" y="1007" font-size="11">180L</text>
</g>
<text class="t" x="118" y="1023">0.75</text><text class="t" x="176" y="1023">1.1</text><text class="t" x="235" y="1023">1.5</text><text class="t" x="280" y="1023">2.2</text><text class="t" x="309" y="1023">3.0</text><text class="t" x="354" y="1023">4.0</text><text class="t" x="413" y="1023">5.5</text><text class="t" x="472" y="1023">7.5</text><text class="t" x="531" y="1023">11</text><text class="t" x="590" y="1023">15</text><text class="t" x="648" y="1023">18.5</text><text class="t" x="707" y="1023">22</text>
<text class="t" x="118" y="1040">246</text><text class="t" x="176" y="1040">280</text><text class="t" x="235" y="1040">304</text><text class="t" x="294" y="1040">350</text><text class="t" x="354" y="1040">380</text><text class="t" x="413" y="1040">425</text><text class="t" x="472" y="1040">461</text><text class="t" x="531" y="1040">524</text><text class="t" x="590" y="1040">547</text><text class="t" x="648" y="1040">583</text><text class="t" x="707" y="1040">616</text>
<text class="t" x="118" y="1057">175</text><text class="t" x="176" y="1057">195</text><text class="t" x="235" y="1057">195</text><text class="t" x="294" y="1057">215</text><text class="t" x="354" y="1057">240</text><text class="t" x="413" y="1057">275</text><text class="t" x="472" y="1057">275</text><text class="t" x="531" y="1057">330</text><text class="t" x="590" y="1057">330</text><text class="t" x="648" y="1057">380</text><text class="t" x="707" y="1057">380</text>
<text class="t" x="118" y="1074">86</text><text class="t" x="176" y="1074">86</text><text class="t" x="235" y="1074">86</text><text class="t" x="294" y="1074">71</text><text class="t" x="354" y="1074">71</text><text class="t" x="413" y="1074">101</text><text class="t" x="472" y="1074">101</text><text class="t" x="531" y="1074">126</text><text class="t" x="590" y="1074">126</text><text class="t" x="648" y="1074">126</text><text class="t" x="707" y="1074">126</text>

<!-- NOTES -->
<text x="12" y="1095" font-size="10" textLength="471" lengthAdjust="spacingAndGlyphs">注:1.KA、KF、KAF、KAZ壳体为通用件,安装尺寸均可相互参照.   2."K.."表示K、KA、KF、KAF、KAZ、KAB.</text>
<text x="12" y="1108" font-size="10" textLength="710" lengthAdjust="spacingAndGlyphs">Note:1.The housings of KA、KF、KAF、KAZ are common parts.The mounting dimensions may consult each other.  2."K.."mean K、KA、KF、KAF、KAZ、KAB.</text>

<!-- FOOTER -->
<text x="646" y="1131" class="b" font-size="18" textLength="57" lengthAdjust="spacingAndGlyphs">BOQIANG</text>
<rect x="708" y="1114" width="30" height="18" fill="none" stroke="#444" stroke-width="0.8"/>
<text class="t" x="723" y="1127" font-size="11">119</text>
</svg>
</body></html>
